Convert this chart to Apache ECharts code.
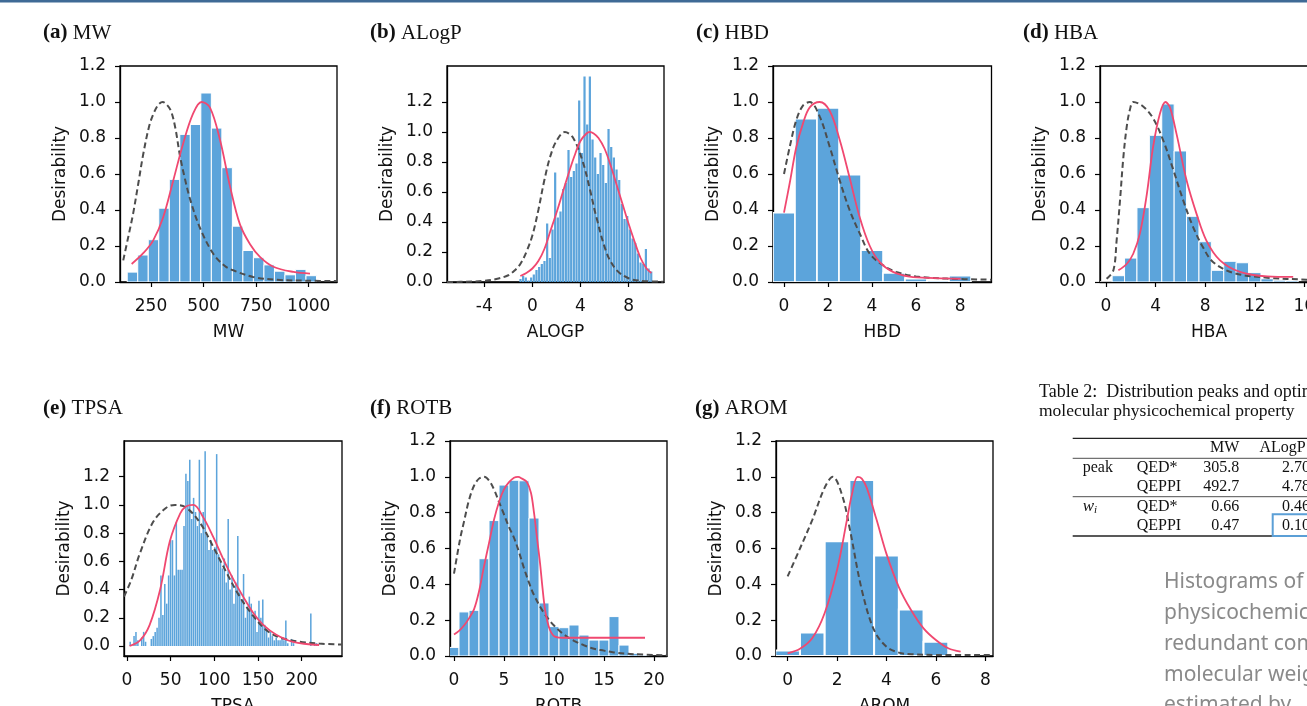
<!DOCTYPE html>
<html><head><meta charset="utf-8">
<script src="https://cdn.jsdelivr.net/npm/echarts@6/dist/echarts.min.js"></script>
<style>html,body{margin:0;padding:0;background:#fff;}#c{width:1307px;height:706px;}</style>
</head><body><div id="c"></div>
<script>
// ---------------- DATA ----------------
const yTicks = [0, 0.2, 0.4, 0.6, 0.8, 1.0, 1.2];
// (a) MW
const mwTicks = [250, 500, 750, 1000];
const mwBinStart = 137, mwBinWidth = 50;
const mwHist = [0.055, 0.15, 0.235, 0.41, 0.57, 0.82, 0.875, 1.05, 0.855, 0.635, 0.31, 0.175, 0.135, 0.095, 0.06, 0.04, 0.07, 0.035];
const mwRed = [[158,0.10],[213,0.16],[260,0.23],[308,0.36],[355,0.56],[403,0.77],[450,0.935],[490,1.0],[530,0.97],[578,0.79],[626,0.53],[673,0.32],[721,0.21],[768,0.14],[832,0.085],[927,0.056],[1006,0.047]];
const mwDash = [[118,0.12],[140,0.24],[165,0.38],[190,0.55],[213,0.71],[240,0.86],[260,0.93],[285,0.985],[306,1.0],[325,0.985],[345,0.95],[365,0.86],[388,0.7],[410,0.58],[436,0.46],[483,0.3],[546,0.157],[600,0.09],[641,0.065],[736,0.028],[850,0.012],[1000,0.007],[1134,0.005]];
// (b) ALogP
const alogpTicks = [-4, 0, 4, 8];
const alogpBinStart = -1.1, alogpBinWidth = 0.222;
const alogpHist = [0.02,0.04,0.03,0.01,0.03,0.05,0.08,0.1,0.12,0.14,
  0.39,0.16,0.35,0.73,0.43,0.47,0.62,0.66,0.88,0.7,
  0.74,0.79,1.21,0.86,1.37,1.05,1.37,0.95,0.83,0.72,
  0.86,0.78,0.66,1.02,0.9,0.83,0.75,0.68,0.52,0.42,
  0.44,0.35,0.29,0.26,0.19,0.13,0.12,0.22,0.09,0.07];
const alogpRed = [[-1.0,0.04],[-0.5,0.06],[0,0.09],[0.5,0.14],[1,0.22],[1.5,0.34],[2,0.46],[2.5,0.59],[3,0.72],[3.5,0.84],[4,0.94],[4.5,0.99],[4.78,1.0],[5.1,0.99],[5.5,0.96],[6,0.89],[6.5,0.78],[7,0.65],[7.5,0.52],[8,0.39],[8.5,0.27],[9,0.16],[9.5,0.09],[9.9,0.06]];
const alogpDash = [[-7.1,0.0],[-6,0.001],[-5,0.003],[-4,0.008],[-3,0.02],[-2,0.045],[-1.5,0.075],[-1,0.12],[-0.5,0.2],[0,0.31],[0.5,0.48],[1,0.68],[1.5,0.84],[2,0.94],[2.7,1.0],[3.4,0.96],[4.2,0.8],[4.78,0.62],[5.3,0.44],[6.2,0.19],[7,0.08],[8,0.025],[9,0.008],[10.9,0.002]];
// (c) HBD
const hbdTicks = [0, 2, 4, 6, 8];
const hbdX = [0,1,2,3,4,5,6,7,8];
const hbdHist = [0.385,0.907,0.967,0.596,0.176,0.05,0.018,0.01,0.035];
const hbdRed = [[0,0.385],[0.26,0.55],[0.56,0.75],[0.86,0.88],[1.17,0.97],[1.62,1.0],[2.08,0.95],[2.53,0.79],[2.98,0.58],[3.44,0.36],[3.9,0.2],[4.35,0.11],[4.95,0.056],[5.7,0.03],[6.9,0.022],[8.03,0.018]];
const hbdDash = [[0,0.6],[0.26,0.75],[0.56,0.9],[0.86,0.98],[1.17,1.0],[1.62,0.92],[2.08,0.75],[2.53,0.565],[2.98,0.4],[3.44,0.27],[3.9,0.157],[4.5,0.093],[5.1,0.056],[6,0.031],[7.4,0.019],[9.43,0.013]];
// (d) HBA
const hbaTicks = [0, 4, 8, 12, 16];
const hbaX = [0,1,2,3,4,5,6,7,8,9,10,11,12,13,14,15];
const hbaHist = [0,0.035,0.133,0.413,0.815,0.989,0.728,0.365,0.224,0.065,0.115,0.107,0.052,0.018,0.01,0.008];
const hbaRed = [[1.0,0.065],[1.67,0.1],[2.2,0.157],[2.74,0.27],[3.3,0.49],[3.8,0.75],[4.35,0.935],[4.8,1.0],[5.16,0.97],[5.7,0.82],[6.5,0.565],[7.3,0.38],[8.1,0.23],[9.2,0.12],[10.8,0.056],[13,0.031],[15.1,0.028]];
const hbaDash = [[0.05,0.018],[0.6,0.065],[0.86,0.23],[1.13,0.45],[1.4,0.69],[1.67,0.86],[1.94,0.96],[2.2,1.0],[3.0,0.975],[3.8,0.91],[4.6,0.79],[5.4,0.63],[6.2,0.46],[7.0,0.31],[7.85,0.19],[8.65,0.11],[10.3,0.05],[13,0.024],[16.2,0.013],[17.1,0.012]];
// (e) TPSA
const tpsaTicks = [0, 50, 100, 150, 200];
const tpsaBinStart = 2.6, tpsaBinWidth = 2.2;
const tpsaHist = [0.03,0,0.07,0.1,0.04,0,0.06,0.1,0.03,0,
  0,0.05,0.07,0.1,0.13,0.2,0.5,0.22,0.44,0.3,
  0.5,0.75,0.75,0.5,0.88,0.54,0.54,0.54,0.85,1.22,
  1.17,1.32,0.9,1.05,0.95,0.85,1.32,0.8,0.95,1.38,
  0.78,0.68,0.75,0.68,0.7,1.36,0.65,0.6,0.55,0.62,
  0.45,0.9,0.4,0.5,0.3,0.45,0.78,0.38,0.33,0.51,
  0.2,0.28,0.35,0.3,0.22,0.25,0.1,0.32,0.2,0.33,
  0.15,0.12,0.06,0.1,0.07,0.04,0.06,0.04,0.04,0.05,
  0.04,0.18,0.02,0,0.05,0.02,0,0,0,0,
  0,0,0,0,0.23,0,0.02,0.02];
const tpsaRed = [[3,0.0],[15,0.04],[26,0.15],[38,0.4],[49,0.74],[61,0.94],[68,0.99],[76,1.0],[87.5,0.91],[99,0.77],[110,0.62],[122,0.47],[133,0.35],[145,0.23],[156,0.15],[171,0.08],[190,0.03],[220,0.007]];
const tpsaDash = [[-3.4,0.35],[5,0.47],[15,0.66],[30,0.88],[45,0.98],[55,1.0],[68,0.98],[84,0.87],[99,0.7],[114,0.52],[129,0.35],[145,0.21],[160,0.11],[175,0.06],[198,0.03],[220,0.017],[246,0.01]];
// (f) ROTB
const rotbTicks = [0, 5, 10, 15, 20];
const rotbX = [0,1,2,3,4,5,6,7,8,9,10,11,12,13,14,15,16,17,18,19];
const rotbHist = [0.048,0.246,0.255,0.543,0.756,0.954,0.981,0.978,0.77,0.296,0.164,0.158,0.173,0.117,0.089,0.089,0.22,0.061,0.015,0.005];
const rotbRed = [[0,0.12],[0.5,0.14],[1,0.17],[1.5,0.21],[2,0.26],[2.5,0.36],[3,0.5],[3.5,0.63],[4,0.76],[4.5,0.86],[5,0.93],[5.5,0.97],[6,0.995],[6.4,1.0],[6.8,0.99],[7.3,0.97],[7.7,0.91],[8.0,0.8],[8.3,0.66],[8.6,0.52],[8.85,0.38],[9.1,0.26],[9.35,0.19],[9.6,0.145],[9.85,0.12],[10.1,0.108],[10.5,0.103],[11.5,0.102],[19.1,0.102]];
const rotbDash = [[0,0.46],[0.6,0.65],[1,0.75],[1.5,0.87],[2,0.95],[2.5,0.99],[3,1.0],[3.5,0.98],[4,0.93],[4.5,0.86],[5,0.79],[5.5,0.72],[6,0.66],[6.5,0.58],[7,0.49],[7.5,0.41],[8,0.34],[9,0.24],[10,0.17],[11,0.12],[12,0.085],[13,0.06],[14,0.04],[15,0.03],[16,0.02],[18,0.01],[21.3,0.004]];
// (g) AROM
const aromTicks = [0, 2, 4, 6, 8];
const aromX = [0,1,2,3,4,5,6,7];
const aromHist = [0.031,0.131,0.64,0.983,0.561,0.259,0.08,0.008];
const aromRed = [[0,0.015],[0.5,0.04],[1,0.1],[1.5,0.24],[2,0.48],[2.4,0.76],[2.6,0.9],[2.83,1.0],[3.0,0.99],[3.2,0.94],[3.6,0.76],[4,0.57],[4.5,0.385],[5,0.255],[5.5,0.154],[6,0.089],[6.5,0.043],[7,0.024]];
const aromDash = [[0,0.444],[0.5,0.6],[1,0.76],[1.5,0.94],[1.83,1.0],[2.2,0.9],[2.5,0.72],[3,0.37],[3.5,0.144],[4,0.052],[4.5,0.019],[5,0.01],[6,0.006],[8.31,0.005]];
// Table
const tableHead = ['MW', 'ALogP'];
const tablePeakQED = ['305.8', '2.70'];
const tablePeakQEPPI = ['492.7', '4.78'];
const tableWQED = ['0.66', '0.46'];
const tableWQEPPI = ['0.47', '0.10'];
const captionLines = ['Histograms of', 'physicochemical', 'redundant com', 'molecular weight', 'estimated by'];

// ---------------- BUILD ----------------
const BAR = '#5ca4db', RED = '#f04870', DASH = '#4d4d4d', TXT = '#111';
const SANS = 'DejaVu Sans', SERIF = 'Liberation Serif';

function evenBins(start, width, hist) { return hist.map((h, i) => [start + i * width, start + (i + 1) * width, h]); }
function intBins(xs, hist) { return xs.map((x, i) => [x - 0.5, x + 0.5, hist[i]]); }

const panels = [
  {lab:'(a)', name:'MW', xname:'MW', g:{left:120, top:66, width:217, height:216}, xr:[102.6,1134.5], xt:mwTicks, yr:[0,1.2], bins:evenBins(mwBinStart, mwBinWidth, mwHist), red:mwRed, dash:mwDash, lw:1, gap:0, tl:[43,22.5]},
  {lab:'(b)', name:'ALogP', xname:'ALOGP', g:{left:447, top:66, width:217, height:216}, xr:[-7.1,10.95], xt:alogpTicks, yr:[0,1.44], bins:evenBins(alogpBinStart, alogpBinWidth, alogpHist), red:alogpRed, dash:alogpDash, lw:0, gap:0.45, tl:[370,22.5]},
  {lab:'(c)', name:'HBD', xname:'HBD', g:{left:773, top:66, width:218.5, height:216}, xr:[-0.5,9.43], xt:hbdTicks, yr:[0,1.2], bins:intBins(hbdX, hbdHist), red:hbdRed, dash:hbdDash, lw:1.6, gap:0, tl:[696,22.5]},
  {lab:'(d)', name:'HBA', xname:'HBA', g:{left:1100, top:66, width:218, height:216}, xr:[-0.48,17.1], xt:hbaTicks, yr:[0,1.2], bins:intBins(hbaX, hbaHist), red:hbaRed, dash:hbaDash, lw:1, gap:0, tl:[1023,22.5]},
  {lab:'(e)', name:'TPSA', xname:'TPSA', g:{left:124, top:441, width:218, height:215}, xr:[-3.4,246.2], xt:tpsaTicks, yr:[-0.071,1.453], bins:evenBins(tpsaBinStart, tpsaBinWidth, tpsaHist), red:tpsaRed, dash:tpsaDash, lw:0, gap:0.4, tl:[43,398]},
  {lab:'(f)', name:'ROTB', xname:'ROTB', g:{left:450, top:441, width:217, height:215}, xr:[-0.4,21.3], xt:rotbTicks, yr:[0,1.2], bins:intBins(rotbX, rotbHist), red:rotbRed, dash:rotbDash, lw:1, gap:0, tl:[370,398]},
  {lab:'(g)', name:'AROM', xname:'AROM', g:{left:776, top:441, width:217, height:215}, xr:[-0.47,8.31], xt:aromTicks, yr:[0,1.2], bins:intBins(aromX, aromHist), red:aromRed, dash:aromDash, lw:2, gap:0, tl:[695,398]}
];

const grids = [], xAxes = [], yAxes = [], series = [], titles = [];
panels.forEach((p, i) => {
  grids.push(Object.assign({show:true, borderColor:'#000', borderWidth:1.3, containLabel:false, outerBoundsMode:'none'}, p.g));
  xAxes.push({type:'value', gridIndex:i, min:p.xr[0], max:p.xr[1], splitLine:{show:false},
    axisLine:{show:true, onZero:false, lineStyle:{color:'#000', width:1.3}},
    axisTick:{show:true, length:5, lineStyle:{color:'#000', width:1.2}, customValues:p.xt},
    axisLabel:{customValues:p.xt, fontSize:17, color:TXT, fontFamily:SANS, margin:16, formatter:v => String(v)},
    name:p.xname, nameLocation:'middle', nameGap:42, nameTextStyle:{fontSize:17, color:TXT, fontFamily:SANS}});
  yAxes.push({type:'value', gridIndex:i, min:p.yr[0], max:p.yr[1], splitLine:{show:false},
    axisLine:{show:true, onZero:false, lineStyle:{color:'#000', width:1.3}},
    axisTick:{show:true, length:5, lineStyle:{color:'#000', width:1.2}, customValues:yTicks},
    axisLabel:{customValues:yTicks, fontSize:17, color:TXT, fontFamily:SANS, margin:14, formatter:v => v.toFixed(1)},
    name:'Desirability', nameLocation:'middle', nameGap:51, nameRotate:90, nameTextStyle:{fontSize:17, color:TXT, fontFamily:SANS}});
  const lw = p.lw, gap = p.gap;
  series.push({type:'custom', xAxisIndex:i, yAxisIndex:i, clip:true, silent:true, data:p.bins, encode:{x:[0,1], y:2}, z:1,
    renderItem:function(params, api){
      const a = api.coord([api.value(0), api.value(2)]);
      const b = api.coord([api.value(1), 0]);
      const st = lw > 0 ? {fill:BAR, stroke:'#fff', lineWidth:lw} : {fill:BAR};
      return {type:'rect', shape:{x:a[0] + gap / 2, y:a[1], width:b[0]-a[0]-gap, height:b[1]-a[1]}, style:st};
    }});
  series.push({type:'line', xAxisIndex:i, yAxisIndex:i, data:p.dash, showSymbol:false, smooth:0.35, silent:true, z:3,
    lineStyle:{color:DASH, width:2, type:[6,3.5]}});
  series.push({type:'line', xAxisIndex:i, yAxisIndex:i, data:p.red, showSymbol:false, smooth:0.35, silent:true, z:4,
    lineStyle:{color:RED, width:1.8}});
  titles.push({text:'{b|' + p.lab + '} ' + p.name, left:p.tl[0], top:p.tl[1], padding:0,
    textStyle:{fontFamily:SERIF, fontSize:21, fontWeight:'normal', color:TXT, rich:{b:{fontFamily:SERIF, fontSize:21, fontWeight:'bold', color:TXT}}}});
});

// table + caption graphics
const G = [];
G.push({type:'rect', shape:{x:0, y:0, width:1307, height:2.5}, style:{fill:'#3f6a96'}, z:100});
function txt(s, x, y, align, font, fill) {
  G.push({type:'text', x:x, y:y, z:100, style:{text:s, font:font || ('16px "' + SERIF + '"'), fill:fill || TXT, textAlign:align || 'left', textVerticalAlign:'middle'}});
}
function hline(y, x0, x1, w) { G.push({type:'line', z:100, shape:{x1:x0, y1:y, x2:x1, y2:y}, style:{stroke:'#222', lineWidth:w}}); }
txt('Table 2:  Distribution peaks and optimal', 1039, 392, 'left', '18px "' + SERIF + '"');
txt('molecular physicochemical property', 1039, 411.5, 'left', '17.5px "' + SERIF + '"');
hline(438.3, 1072.7, 1320, 1.3);
hline(458.3, 1072.7, 1320, 0.8);
hline(496.7, 1072.7, 1320, 0.8);
hline(536, 1072.7, 1320, 1.3);
const colMW = 1239.3, colAL = 1310;
txt(tableHead[0], colMW, 447.3, 'right'); txt(tableHead[1], 1259.5, 447.3, 'left');
txt('peak', 1082.7, 467.7); txt('QED*', 1136.7, 467.7); txt(tablePeakQED[0], colMW, 467.7, 'right'); txt(tablePeakQED[1], colAL, 467.7, 'right');
txt('QEPPI', 1136.7, 486.7); txt(tablePeakQEPPI[0], colMW, 486.7, 'right'); txt(tablePeakQEPPI[1], colAL, 486.7, 'right');
txt('w', 1082.7, 506.2, 'left', 'italic 17px "' + SERIF + '"'); txt('i', 1094, 510.5, 'left', 'italic 11px "' + SERIF + '"');
txt('QED*', 1136.7, 506.7); txt(tableWQED[0], colMW, 506.7, 'right'); txt(tableWQED[1], colAL, 506.7, 'right');
txt('QEPPI', 1136.7, 526); txt(tableWQEPPI[0], colMW, 526, 'right'); txt(tableWQEPPI[1], colAL, 526, 'right');
G.push({type:'rect', z:101, shape:{x:1272.7, y:514.3, width:60, height:21.7}, style:{fill:'none', stroke:'#5b9fd6', lineWidth:2}});
const capY = [582, 613, 644, 675, 705];
captionLines.forEach((s, k) => txt(s, 1164, capY[k], 'left', '21px "Noto Sans"', '#8a8a8a'));

const chart = echarts.init(document.getElementById('c'), null, {renderer:'canvas'});
chart.setOption({animation:false, backgroundColor:'#fff', title:titles, grid:grids, xAxis:xAxes, yAxis:yAxes, series:series, graphic:{elements:G}});
</script></body></html>
